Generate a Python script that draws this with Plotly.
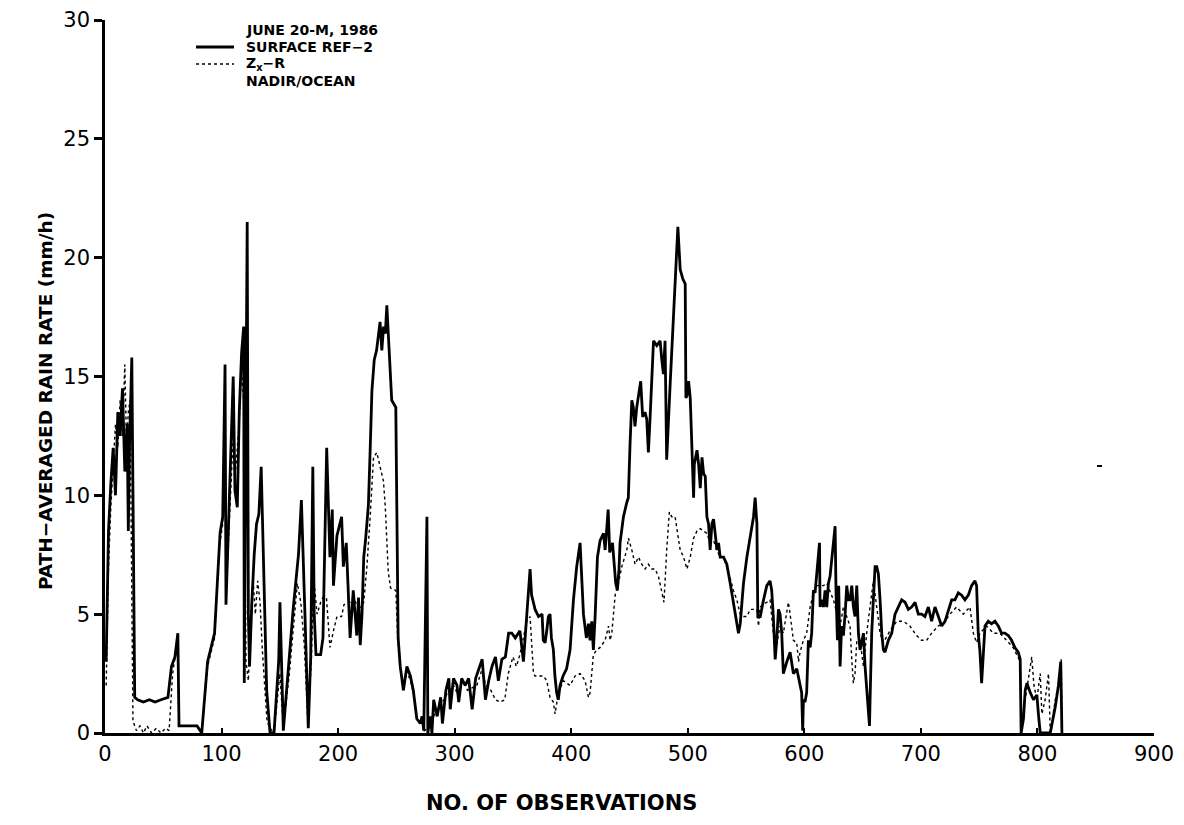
import plotly.graph_objects as go

# ---- data (vertices of each trace) ----
surface_x = [1, 3, 5, 7, 9, 11, 13, 15, 17, 19, 20, 21, 23, 24.5, 25.5,
    28, 33, 38, 43, 48, 54, 57, 60, 62.5, 63.5, 79, 83, 88, 94, 98.7, 101, 103, 103.8, 106, 110, 111.5, 113.5, 115.2, 117.2, 119, 119.5, 121, 122, 123, 124, 126, 128, 130, 132, 134, 135.8, 137, 138.7, 141.6, 145, 149, 150.1, 153, 156, 158.7, 161.6, 166, 168.5, 171.6, 174.4, 176.5, 178.3, 179.5, 181, 185, 187, 190.2, 193, 195, 196, 199, 203, 204.5, 207, 208.5, 210.3, 213, 216, 217.5, 219, 220.5, 222, 223.5, 226, 227.5, 229, 231, 233, 236, 237.5, 239, 240.5, 241.8, 243, 246, 249.5, 250.7, 251.5, 253.3, 256, 259, 262, 264.5, 267.5, 270.5, 272, 273.5, 276.2, 277, 279, 280.5, 282, 285, 288, 289.5, 292.5, 295, 296.2, 299, 302, 303.5, 306, 309, 312, 315, 318, 323.6, 326.4, 329.2, 332, 335, 337.5, 340.5, 343.5, 346.3, 349, 352, 356,
    359, 362, 364.7, 366, 369, 372, 375, 376, 377.6, 379, 380.4, 381.8, 383, 384.7, 386, 387.5, 388.9, 390.4, 393, 396, 399, 401.9, 404.7, 407.6, 409, 410.5, 413, 414.8, 416.2, 417.6, 419, 420.5, 422.5, 424.8, 427.7, 429.1, 431.7, 433, 435.4, 436.8, 438.2, 439.6, 441, 441.9, 444.8, 447.7, 449, 450.5, 452, 453.3, 454.7, 456.2, 458.2, 459.6, 461.3, 463.3, 464.8, 466.2, 467.7, 469.1, 470.6, 473.4, 476.3, 477.7, 479.1, 480.5, 481.9, 484.9, 487.7, 489.2, 491.5, 493.5, 495.8, 497.8, 498.4, 499.3, 500.7, 502.1, 503.6, 505, 505.6, 507.9, 509.3, 510.7, 512.2, 513.6, 515, 516.4, 517.8, 519.2, 520.7, 522.1, 523.5, 525, 526.4, 527.8, 530.7, 533.5, 536.4, 539.2, 540.7, 542.1, 543.5, 545, 547.8, 550.7, 553.6, 556.4, 557.8, 559.3, 560.1, 562.2,
    565, 567.8, 570.6, 572, 573.4, 575, 576.3, 577.8, 579.2, 580.6, 582, 583.5, 585, 587.8, 590.6, 593.5, 596.3, 597.7, 598.6, 599.2, 600.6, 602, 603.5, 605, 606.3, 607.8, 609.2, 610.6, 612, 613, 613.5, 615, 616.4, 617.8, 619.2, 620.7, 622.1, 623.5, 625, 626.4, 627.2, 628.4, 629.5, 630.7, 632, 633.5, 635, 636.4, 637.8, 639.2, 640.7, 642.1, 643.5, 645, 646.4, 647.8, 649.2, 650.7, 652.1, 653.5, 655.9, 656.4, 657.8, 659.2, 660.7, 662.1, 663.5, 665, 666.4, 667.8, 669.2, 672.1, 675, 677.8, 680.7, 683.5, 686.4, 689.2, 692.1, 695, 697.8, 700.7, 703.5, 706.4, 709.2, 712.1, 715, 717.8, 720.7, 723.5, 726.4, 729.2, 732.1, 735, 737.8, 740.7, 743.5, 746.4, 747.8, 749.2, 750.7, 752.1, 753.5, 755, 757.8, 760.6, 763.5, 766.4, 769.2, 772.1, 775, 777.8, 780.6, 783.5, 785.2, 786, 788, 789.5, 791, 793.8, 796.6, 799.5, 801, 802.4, 811, 815.3, 818, 820, 821]
surface_y = [3, 8.5, 10.5, 12, 10, 13.5, 12.5, 14.5, 11, 13, 8.5, 12, 15.8, 5, 1.5,
    1.4, 1.3, 1.4, 1.3, 1.4, 1.5, 2.8, 3.2, 4.2, 0.3, 0.3, 0, 3, 4.2, 8.4, 9.1, 15.5, 5.4, 8.8, 15.0, 10.2, 9.5, 13.5, 16, 17.1, 2.1, 14, 21.5, 5, 2.8, 5.5, 7.5, 8.8, 9.2, 11.2, 7.2, 5.1, 1.8, 0, 0, 3, 5.5, 0.1, 2, 3.5, 5.3, 7.5, 9.8, 4.9, 0.2, 3.2, 11.2, 5, 3.3, 3.3, 4, 12.0, 7.4, 9.4, 6.2, 8.3, 9.1, 7.0, 8.0, 6.2, 4.0, 6.0, 4.1, 5.7, 3.7, 5.0, 7.4, 8.1, 9.6, 11.9, 14.4, 15.7, 16.1, 17.3, 16.1, 17.1, 16.8, 18.0, 16.7, 14.0, 13.7, 6.3, 4.0, 2.8, 1.8, 2.8, 2.4, 1.8, 0.6, 0.4, 0.7, 0.1, 9.1, 0, 0.7, 0, 1.4, 0.7, 1.5, 0.4, 1.8, 2.3, 1.0, 2.3, 2.0, 1.3, 2.3, 2.0, 2.3, 1.0, 2.3, 3.1, 1.4, 2.2, 2.8, 3.2, 2.2, 3.1, 3.2, 4.2, 4.2, 4.0, 4.3,
    3.0, 4.9, 6.9, 5.8, 5.2, 4.9, 5.0, 3.9, 3.8, 4.3, 4.9, 5.0, 4.0, 3.5, 2.4, 1.7, 1.4, 2.0, 2.4, 2.7, 3.5, 5.6, 7.0, 8.0, 6.8, 5.0, 4.0, 4.6, 3.9, 4.7, 3.5, 4.9, 7.4, 8.1, 8.4, 7.7, 9.4, 7.6, 8.0, 7.0, 6.3, 6.0, 6.9, 8.0, 9.1, 9.7, 9.9, 12.2, 14.0, 13.7, 12.9, 13.7, 14.4, 14.8, 13.3, 13.5, 13.2, 11.8, 13.3, 15.1, 16.5, 16.3, 16.5, 15.7, 15.1, 16.5, 11.5, 14.7, 17.5, 19.6, 21.3, 19.5, 19.1, 18.9, 14.1, 14.2, 14.8, 14.1, 11.6, 9.9, 11.3, 11.9, 11.3, 10.3, 11.6, 10.9, 10.8, 9.1, 8.8, 7.7, 8.8, 9.0, 8.4, 7.7, 8.0, 7.4, 7.4, 7.1, 6.3, 5.5, 4.9, 4.5, 4.2, 4.6, 6.3, 7.4, 8.2, 9.1, 9.9, 8.8, 4.9, 4.9,
    5.6, 6.2, 6.4, 6.0, 4.9, 3.1, 3.9, 5.2, 5.0, 4.2, 2.5, 2.8, 3.0, 3.4, 2.5, 2.7, 2.0, 1.7, 0.1, 1.4, 1.3, 1.7, 3.9, 3.6, 4.2, 6.0, 5.9, 6.7, 7.4, 8.0, 5.3, 5.6, 5.3, 6.0, 5.3, 6.3, 6.6, 7.4, 8.1, 8.7, 5.9, 3.9, 6.2, 2.8, 4.5, 4.1, 5.0, 6.2, 5.6, 5.6, 6.2, 5.3, 4.9, 6.2, 4.2, 3.5, 3.8, 4.2, 2.8, 1.7, 0.3, 1.4, 4.2, 5.6, 7.0, 7.0, 6.7, 5.6, 4.2, 3.5, 3.4, 3.9, 4.2, 5.0, 5.3, 5.6, 5.5, 5.2, 5.3, 5.5, 5.0, 5.0, 4.9, 5.3, 4.7, 5.3, 4.9, 4.5, 4.7, 5.2, 5.6, 5.6, 5.9, 5.8, 5.6, 5.8, 6.2, 6.4, 6.2, 4.2, 3.4, 2.1, 3.5, 4.5, 4.7, 4.6, 4.7, 4.5, 4.2, 4.2, 4.1, 3.9, 3.6, 3.4, 3.1, 0, 0.6, 1.8, 2.1, 1.7, 1.4, 1.6, 0.7, 0, 0, 1.1, 2.0, 3.0, 0]

zxr_x = [1, 3, 5, 7, 9, 11, 13, 15, 17, 18.5, 20, 21.5, 22.5, 24, 27, 30, 33, 36, 40, 44, 48, 52, 55, 58, 62, 63.5, 79, 83, 88, 94, 98, 101, 103, 104, 106, 110, 112, 115, 117, 119, 120, 121, 123, 125, 127, 129, 131, 133, 135, 137, 139, 141.6, 145, 150, 153, 158, 162, 165, 168, 171, 174, 177, 179, 182, 185, 187, 190, 193, 196, 199, 203, 205, 210.3, 213, 216, 219, 222, 224.7, 227.5, 230.4, 233.2, 236, 238.9, 240.5, 243, 245, 249.5, 251, 253, 256, 259, 262, 265, 268, 272, 274, 277, 280, 283, 287, 291, 295, 299, 303, 307, 311, 315, 319, 323, 327, 331, 335, 339, 343, 346, 350, 353, 356,
    361.8, 364.7, 367.6, 369, 373.2, 376, 379, 381.8, 384.7, 386.1, 389, 393.3, 399, 403.3, 407.6, 411.9, 414.8, 416.2, 419, 422, 424.8, 429.1, 432, 433.4, 434.8, 437.7, 440.5, 443.4, 447.7, 449.1, 452, 454.8, 457.7, 460.5, 463.4, 466.2, 469.1, 471.9, 474.8, 477.7, 479.6, 481.9, 484.2, 486.2, 489.1, 491.9, 493.5, 496.4, 499.3, 502.1, 505, 507.9, 510.7, 513.6, 516.4, 519.2, 522.1, 525, 527.8, 530.7, 533.5, 536.4, 539.2, 542.1, 545, 547.8, 550.7, 553.6, 559.3, 560.7, 562, 570.6, 575, 579.2, 582, 586.3, 587.8, 590.6, 593.5, 595, 596.3, 599.2, 602, 605, 607.8, 610.6, 616.4, 619.2, 625, 627.8, 630.7, 633.5, 639.2, 640.7, 642.1, 643.5, 645, 647.8, 650.7, 653.5, 656.4, 659.2, 662.1, 665, 667.8, 673.5, 679.2, 685, 690.6, 696.3, 700.6, 704.9, 709.2, 714.9, 719.2, 724.9, 730.6, 736.3, 742.1, 745, 747.8, 750.7, 756.4, 762.1, 767.8, 773.5, 779.2, 785.2, 786, 789.5, 792.4, 795.1, 797, 799.5, 802.4, 803.8, 806.6, 809.5, 811, 815.3, 818.1, 820.4, 821]
zxr_y = [2, 7, 9.5, 11.5, 13, 12, 14, 12.5, 15.5, 12, 13.5, 14, 8, 0.5, 0.1, 0.3, 0, 0.3, 0, 0.2, 0, 0.2, 0.1, 2.5, 3.8, 0.3, 0.3, 0, 2.8, 4, 7.8, 8.8, 13, 6, 8.2, 12.5, 11, 13, 15.3, 14, 8, 3, 2.2, 4.8, 6.5, 5, 6.4, 5.5, 3.5, 2, 0.5, 0.2, 0, 2.5, 0.3, 2.4, 4.8, 6.3, 5.5, 3.7, 0.5, 3, 6.5, 5.0, 5.5, 5.7, 5.7, 3.6, 4.3, 4.9, 4.9, 5.4, 5.5, 5.7, 5.4, 5.3, 5.5, 7.0, 9.1, 11.6, 11.8, 11.2, 10.6, 9.5, 6.8, 6.1, 6.0, 4.2, 2.8, 1.8, 2.6, 2.2, 1.6, 0.5, 0.5, 0.1, 0.2, 0.5, 0.8, 1.2, 1.4, 1.8, 2.0, 1.6, 2.2, 1.8, 1.9, 2.0, 2.6, 2.0, 1.8, 1.4, 1.3, 1.4, 2.5, 3.2, 2.8, 3.3,
    4.7, 4.9, 2.5, 2.4, 2.4, 2.4, 2.2, 1.5, 1.3, 0.8, 1.7, 2.2, 2.0, 2.4, 2.5, 2.2, 1.5, 1.7, 3.3, 3.5, 3.6, 3.9, 4.5, 3.9, 4.2, 5.8, 6.3, 7.0, 7.7, 8.2, 7.7, 7.1, 7.4, 7.1, 6.9, 7.1, 6.9, 6.9, 6.6, 6.0, 5.5, 7.7, 9.3, 9.1, 9.1, 8.2, 7.7, 7.4, 6.9, 7.4, 8.2, 8.5, 8.6, 8.5, 8.4, 8.0, 8.1, 7.7, 7.4, 7.4, 6.9, 6.5, 6.0, 5.6, 5.0, 4.9, 4.9, 5.2, 5.2, 4.5, 5.3, 5.6, 3.4, 4.5, 4.2, 5.5, 5.0, 3.9, 3.8, 3.0, 3.4, 3.9, 4.2, 5.3, 5.9, 6.2, 6.2, 6.3, 5.6, 5.0, 4.5, 5.3, 4.5, 3.1, 2.1, 2.5, 3.9, 3.9, 2.8, 4.2, 5.3, 6.4, 5.3, 4.2, 3.8, 4.3, 4.7, 4.7, 4.5, 4.1, 3.9, 3.9, 4.2, 4.5, 4.6, 5.0, 5.3, 5.0, 5.3, 4.2, 3.8, 4.2, 4.5, 4.2, 4.2, 3.9, 3.6, 3.0, 0, 1.4, 2.4, 3.2, 2.0, 1.4, 2.5, 0.8, 1.4, 2.5, 0, 1.4, 2.0, 3.1, 0]

x_ticks = [0, 100, 200, 300, 400, 500, 600, 700, 800, 900]
y_ticks = [0, 5, 10, 15, 20, 25, 30]

legend_title = "JUNE 20-M, 1986"
series_names = ["SURFACE REF\u22122", "Z<sub>x</sub>\u2212R"]
legend_footer = "NADIR/OCEAN"
x_title = "NO. OF OBSERVATIONS"
y_title = "PATH\u2212AVERAGED RAIN RATE (mm/h)"

# ---- figure (page has an 8px body margin, so the figure starts at 8,8) ----
OFF = 8
W, H = 1168, 809
PLOT_X0, PLOT_X1, PLOT_Y0, PLOT_Y1 = 105, 1154, 20, 733   # wanted page pixels of plot area
L = PLOT_X0 - OFF
R = W - (PLOT_X1 - OFF)
T = PLOT_Y0 - OFF
B = H - (PLOT_Y1 - OFF)
FONT = "DejaVu Sans"

def px(xp):
    return (xp - PLOT_X0) / (PLOT_X1 - PLOT_X0)

def py(yp):
    return (PLOT_Y1 - yp) / (PLOT_Y1 - PLOT_Y0)

fig = go.Figure()
fig.add_trace(go.Scatter(x=surface_x, y=surface_y, mode="lines",
                         line=dict(color="black", width=2.8), name=series_names[0],
                         showlegend=False))
fig.add_trace(go.Scatter(x=zxr_x, y=zxr_y, mode="lines",
                         line=dict(color="black", width=1.4, dash="dot"), name=series_names[1],
                         showlegend=False))

# legend (text + sample lines)
rows_y = [30, 47, 64, 81]
texts = [legend_title, series_names[0], series_names[1], legend_footer]
for t, yy in zip(texts, rows_y):
    fig.add_annotation(x=px(244), y=py(yy), xref="paper", yref="paper", text="<b>" + t + "</b>",
                       showarrow=False, xanchor="left", yanchor="middle",
                       font=dict(family=FONT, size=14, color="black"))
fig.add_shape(type="line", xref="paper", yref="paper", x0=px(196), x1=px(234),
              y0=py(rows_y[1]), y1=py(rows_y[1]), line=dict(color="black", width=2.8))
fig.add_shape(type="line", xref="paper", yref="paper", x0=px(196), x1=px(234),
              y0=py(rows_y[2]), y1=py(rows_y[2]), line=dict(color="black", width=1.6, dash="dot"))
# small stray mark in the reference scan
fig.add_shape(type="line", xref="paper", yref="paper", x0=px(1097), x1=px(1102),
              y0=py(466), y1=py(466), line=dict(color="black", width=2))

# axis titles as annotations (they sit off-centre in the reference)
fig.add_annotation(x=px(561), y=py(803), xref="paper", yref="paper", text="<b>" + x_title + "</b>",
                   showarrow=False, xanchor="center", yanchor="middle",
                   font=dict(family=FONT, size=21, color="black"))
fig.add_annotation(x=px(45), y=py(401), xref="paper", yref="paper", text="<b>" + y_title + "</b>",
                   showarrow=False, xanchor="center", yanchor="middle", textangle=-90,
                   font=dict(family=FONT, size=18.5, color="black"))

fig.update_layout(
    width=W, height=H,
    margin=dict(l=L, r=R, t=T, b=B),
    paper_bgcolor="white", plot_bgcolor="white",
    font=dict(family=FONT, color="black"),
    showlegend=False,
)
fig.update_xaxes(range=[0, 900], tickvals=x_ticks, ticktext=[str(v) for v in x_ticks],
                 automargin=False,
                 showgrid=False, zeroline=False, showline=True, linecolor="black", linewidth=2.5,
                 ticks="inside", ticklen=5, tickwidth=2, tickcolor="black",
                 tickfont=dict(family=FONT, size=21, color="black"))
fig.update_yaxes(range=[0, 30], tickvals=y_ticks, ticktext=[str(v) for v in y_ticks],
                 automargin=False,
                 showgrid=False, zeroline=False, showline=True, linecolor="black", linewidth=2.5,
                 ticks="outside", ticklen=8, tickwidth=2.5, tickcolor="black",
                 tickfont=dict(family=FONT, size=21, color="black"))

fig.write_html("out.html")
